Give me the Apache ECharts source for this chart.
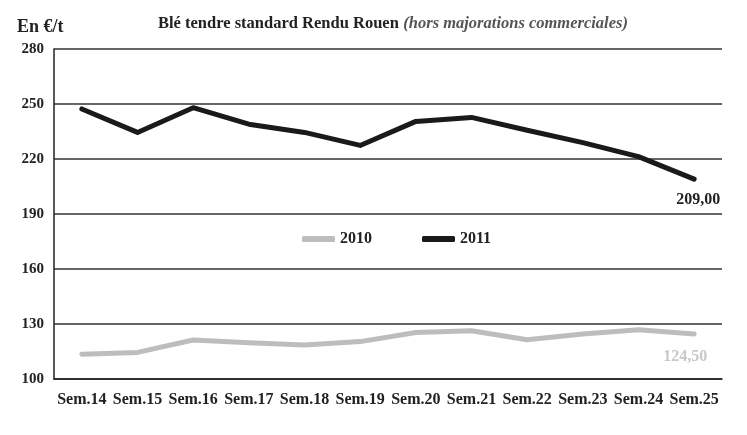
<!DOCTYPE html>
<html>
<head>
<meta charset="utf-8">
<script src="https://cdn.jsdelivr.net/npm/echarts@6/dist/echarts.min.js"></script>
<style>
html,body{margin:0;padding:0;background:#fff;}
#chart{width:747px;height:435px;}
</style>
</head>
<body>
<div id="chart"></div>
<script>
var categories = ['Sem.14','Sem.15','Sem.16','Sem.17','Sem.18','Sem.19','Sem.20','Sem.21','Sem.22','Sem.23','Sem.24','Sem.25'];
var values2010 = [113.5, 114.5, 121.3, 119.8, 118.5, 120.4, 125.4, 126.3, 121.4, 124.5, 126.9, 124.5];
var values2011 = [247.3, 234.5, 248.0, 239.0, 234.5, 227.4, 240.5, 242.7, 235.7, 228.9, 221.3, 209.0];
var yTicks = [100, 130, 160, 190, 220, 250, 280];
var endLabel2010 = '124,50';
var endLabel2011 = '209,00';

var serif = '"Liberation Serif", "Times New Roman", serif';
var chart = echarts.init(document.getElementById('chart'));
var last = categories.length - 1;

function endPoint(values, text, color, dx, dy) {
  return {
    symbol: 'circle', symbolSize: 0, silent: true,
    label: {
      show: true, position: 'inside', offset: [dx, dy],
      fontFamily: serif, fontWeight: 'bold', fontSize: 16, color: color,
      formatter: text
    },
    data: [{coord: [categories[last], values[last]]}]
  };
}

chart.setOption({
  animation: false,
  backgroundColor: '#fff',
  textStyle: {fontFamily: serif},
  title: {
    text: '{b|Blé tendre standard Rendu Rouen} {i|(hors majorations commerciales)}',
    left: 153, top: 10,
    textStyle: {
      rich: {
        b: {fontFamily: serif, fontWeight: 'bold', fontSize: 16.5, color: '#222'},
        i: {fontFamily: serif, fontStyle: 'italic', fontSize: 16.5, color: '#555'}
      }
    }
  },
  graphic: [{
    type: 'text', left: 17, top: 18,
    style: {text: 'En €/t', font: 'bold 18px ' + serif, fill: '#222'}
  }],
  legend: {
    left: 297, top: 226,
    itemWidth: 33, itemHeight: 6, itemGap: 50,
    icon: 'roundRect',
    textStyle: {fontFamily: serif, fontWeight: 'bold', fontSize: 16, color: '#222'},
    data: ['2010', '2011']
  },
  grid: {left: 54, right: 25, top: 49, bottom: 56, containLabel: false},
  xAxis: {
    type: 'category',
    data: categories,
    boundaryGap: true,
    axisLine: {lineStyle: {color: '#222', width: 1.5}},
    axisTick: {inside: true, length: 5, interval: 0, lineStyle: {color: '#222', width: 1.2}},
    axisLabel: {interval: 0, margin: 13, fontFamily: serif, fontWeight: 'bold', fontSize: 16, color: '#222'}
  },
  yAxis: {
    type: 'value',
    min: yTicks[0], max: yTicks[yTicks.length - 1], interval: 30,
    axisLine: {show: true, lineStyle: {color: '#222', width: 1.5}},
    axisTick: {show: false},
    axisLabel: {margin: 10, fontFamily: serif, fontWeight: 'bold', fontSize: 15, color: '#222'},
    splitLine: {lineStyle: {color: '#333', width: 1.5}}
  },
  series: [{
    name: '2010', type: 'line', data: values2010,
    symbol: 'none', color: '#bdbdbd',
    lineStyle: {width: 5, color: '#bdbdbd', join: 'round', cap: 'round'},
    markPoint: endPoint(values2010, endLabel2010, '#c8c8c8', -9, 23)
  }, {
    name: '2011', type: 'line', data: values2011,
    symbol: 'none', color: '#1a1a1a',
    lineStyle: {width: 5, color: '#1a1a1a', join: 'round', cap: 'round'},
    markPoint: endPoint(values2011, endLabel2011, '#222', 4, 21)
  }]
});
</script>
</body>
</html>
